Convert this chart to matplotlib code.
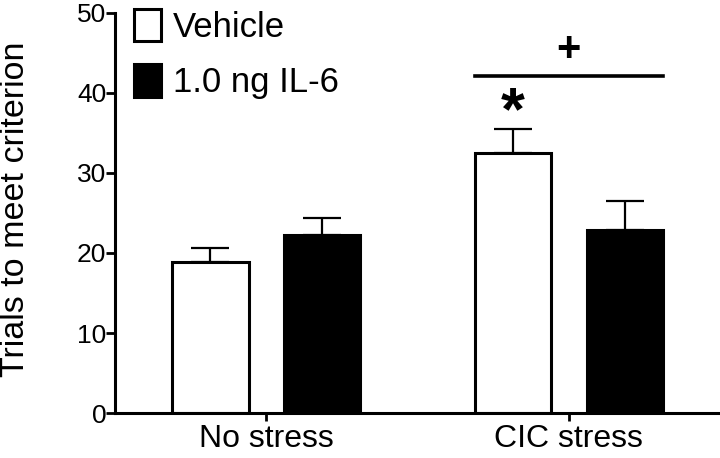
import matplotlib
matplotlib.use('Agg')
import matplotlib.pyplot as plt
import numpy as np

plt.rcParams['font.family'] = ['Liberation Sans', 'DejaVu Sans']

# data
groups = ['No stress', 'CIC stress']
series = ['Vehicle', '1.0 ng IL-6']
means = {'Vehicle': [18.9, 32.5], '1.0 ng IL-6': [22.2, 22.9]}
sems = {'Vehicle': [1.7, 3.0], '1.0 ng IL-6': [2.2, 3.6]}
y_ticks = [0, 10, 20, 30, 40, 50]

fig = plt.figure(figsize=(7.2, 4.58), dpi=100)
ax = fig.add_axes([0.16, 0.098, 0.84, 0.874])

x = np.arange(len(groups))
width = 0.252
offset = 0.185
colors = {'Vehicle': 'white', '1.0 ng IL-6': 'black'}

for k, name in enumerate(series):
    pos = x + (offset if k else -offset)
    ax.bar(pos, means[name], width, color=colors[name], edgecolor='black',
           linewidth=2.2, label=name, zorder=2)
    ax.errorbar(pos, means[name], yerr=[np.zeros(len(groups)), sems[name]],
                fmt='none', ecolor='black', elinewidth=1.6, capsize=14,
                capthick=1.6, zorder=1)

# significance marks
left = x[1] - offset - width / 2
right = x[1] + offset + width / 2
ax.plot([left, right], [42.15, 42.15], color='black', lw=2.6, clip_on=False)
ax.text(x[1], 45.3, '+', ha='center', va='center', fontsize=30, fontweight='bold')
ax.text(x[1] - offset, 37.4, '*', ha='center', va='center', fontsize=44, fontweight='bold')

ax.set_xlim(-0.5, 1.5)
ax.set_ylim(0, 50)
ax.set_yticks(y_ticks)
ax.set_xticks(x)
ax.set_xticklabels(groups)
for sp in ['top', 'right']:
    ax.spines[sp].set_visible(False)
for sp in ['left', 'bottom']:
    ax.spines[sp].set_linewidth(2.2)
ax.tick_params(axis='y', length=6.5, width=2, labelsize=19, pad=0)
ax.tick_params(axis='x', length=6, width=2, labelsize=23, pad=2)
ax.set_ylabel('Trials to meet criterion', fontsize=24.5)
ax.yaxis.set_label_coords(-0.14, 0.51)

ax.legend(loc='upper left', bbox_to_anchor=(0.008, 1.045), frameon=False,
          fontsize=25, handlelength=0.78, handleheight=1.07,
          handletextpad=0.35, labelspacing=0.58, borderaxespad=0)

fig.savefig('out.png', dpi=100)
